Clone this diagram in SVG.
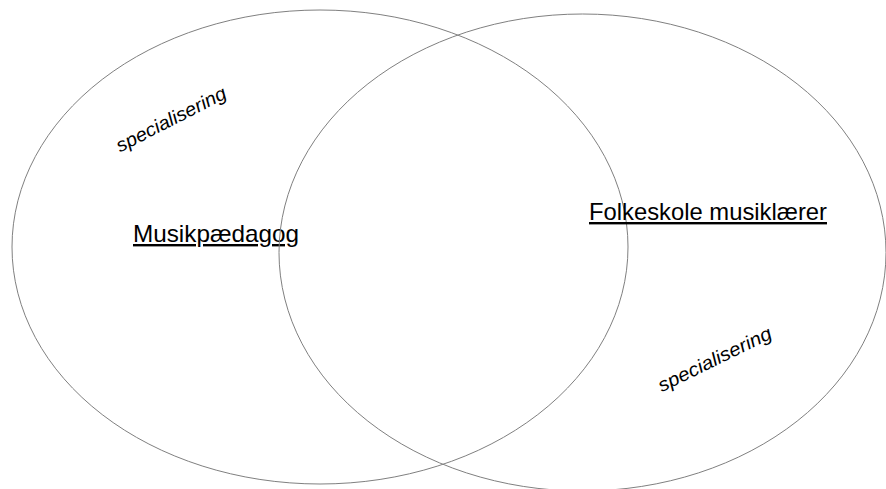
<svg xmlns="http://www.w3.org/2000/svg" width="886" height="489" viewBox="0 0 886 489">
<style>
.circle{fill:none;stroke:#808080;stroke-width:1}
.label{font-family:"Liberation Sans",Arial,sans-serif;font-size:24px;fill:#000;text-decoration:underline}
.spec{font-family:"Liberation Sans",Arial,sans-serif;font-size:19px;font-style:italic;fill:#000}
</style>
<rect width="886" height="489" fill="#fff"/>
<g id="musikpaedagog">
<ellipse class="circle" cx="320" cy="247" rx="308" ry="237"/>
<text class="label" x="133" y="242" textLength="166" lengthAdjust="spacingAndGlyphs">Musikpædagog</text>
<text class="spec" transform="translate(174,125) rotate(-27)" text-anchor="middle" textLength="121" lengthAdjust="spacingAndGlyphs">specialisering</text>
</g>
<g id="folkeskole">
<ellipse class="circle" cx="582.5" cy="252.5" rx="303.5" ry="238.5"/>
<text class="label" x="589" y="220" textLength="238" lengthAdjust="spacingAndGlyphs">Folkeskole musiklærer</text>
<text class="spec" transform="translate(717.5,365) rotate(-26)" text-anchor="middle" textLength="124" lengthAdjust="spacingAndGlyphs">specialisering</text>
</g>
<g id="connectors"></g>
</svg>
